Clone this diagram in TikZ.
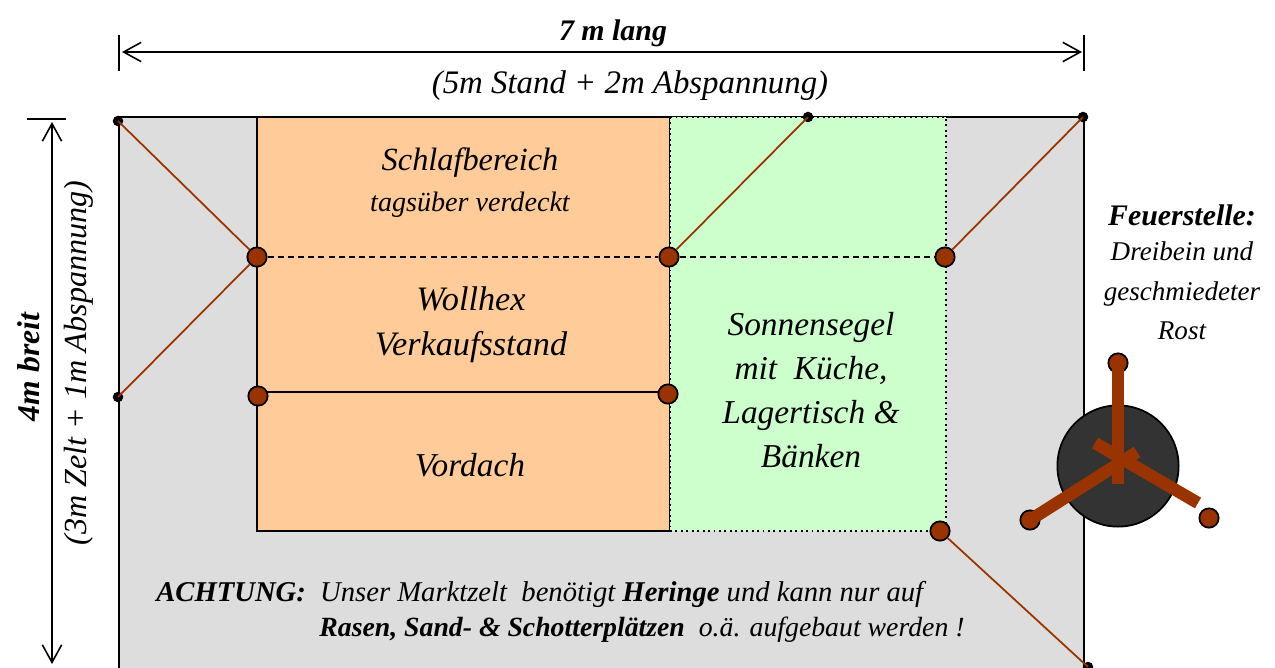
\documentclass[tikz,border=0pt]{standalone}
\usepackage{fontspec}
\setmainfont{Liberation Serif}
\usetikzlibrary{arrows.meta}
\definecolor{myrust}{HTML}{993300}
\definecolor{myorange}{HTML}{FFCC99}
\definecolor{mygreen}{HTML}{CCFFCC}
\definecolor{mygray}{HTML}{DDDDDD}
\definecolor{mycoal}{HTML}{333333}
\newcommand{\txtsize}[1]{\fontsize{#1}{#1}\selectfont}
\tikzset{
	>={Straight Barb[length=10pt,width=11pt,line width=0.9pt]},
	txt/.style={inner sep=0pt,align=center,font=\itshape\txtsize{19}},
	txtsmall/.style={inner sep=0pt,align=center,font=\itshape\txtsize{16}},
	bigdot/.style={circle,draw=black,fill=myrust,line width=1pt,minimum size=11pt,inner sep=0pt},
	smalldot/.style={circle,fill=black,minimum size=6pt,inner sep=0pt},
	guy/.style={myrust,line width=1pt},
	leg/.style={myrust,line width=7pt},
	tick/.style={line width=1.2pt},
	dim/.style={<->,line width=0.8pt},
	ridge/.style={line width=1pt,dash pattern=on 3.4pt off 2.4pt},
}
\begin{document}
\begin{tikzpicture}[x=0.02cm,y=-0.02cm]
	\useasboundingbox (0,0) rectangle (1275,667);
	\clip (0,0) rectangle (1275,667);
	\draw [fill=mygray,line width=1.1pt] (119,117) rectangle (1084,690);
	\draw [fill=myorange,line width=1.1pt] (257,117) rectangle (670,531);
	\draw [fill=mygreen,line width=1.1pt,dotted] (670,117) rectangle (946,531);
	\draw [line width=1.1pt] (257,117) -- (670,117);

	\coordinate (frontlineL) at (258,392);
	\coordinate (frontlineR) at (668,392);
	\draw [line width=1.1pt] (frontlineL) -- (frontlineR);

	\node [bigdot] (ridgeL) at (257,257) {};
	\node [bigdot] (ridgeM) at (669,257) {};
	\node [bigdot] (ridgeR) at (945,257) {};
	\node [bigdot] (frontL) at (258,396) {};
	\node [bigdot] (frontR) at (668,394) {};
	\node [bigdot] (sailB) at (940,531) {};
	\node [smalldot] (pegA) at (118,121) {};
	\node [smalldot] (pegB) at (118,397) {};
	\node [smalldot] (pegC) at (808,117) {};
	\node [smalldot] (pegD) at (1083,117) {};
	\node [smalldot] (pegE) at (1088,667) {};

	\draw [guy] (pegA.center) -- (ridgeL);
	\draw [guy] (pegB.center) -- (ridgeL);
	\draw [guy] (pegC.center) -- (ridgeM);
	\draw [guy] (pegD.center) -- (ridgeR);
	\draw [guy] (sailB) -- (pegE.center);
	\draw [ridge] (ridgeL) -- (ridgeM);
	\draw [ridge] (ridgeM) -- (ridgeR);

	\coordinate (tickTL) at (119,35);
	\coordinate (tickBL) at (119,71);
	\coordinate (tickTR) at (1084,35);
	\coordinate (tickBR) at (1084,71);
	\coordinate (tickLL) at (27,119);
	\coordinate (tickLR) at (66,119);
	\coordinate (lenL) at (122,52);
	\coordinate (lenR) at (1082,52);
	\coordinate (widT) at (52,122);
	\coordinate (widB) at (52,664);
	\draw [tick] (tickTL) -- (tickBL);
	\draw [tick] (tickTR) -- (tickBR);
	\draw [tick] (tickLL) -- (tickLR);
	\draw [dim] (lenL) -- (lenR);
	\draw [dim] (widT) -- (widB);

	\node [circle,draw=black,fill=mycoal,line width=1pt,minimum size=69pt,inner sep=0pt] (fire) at (1118,466) {};
	\node [bigdot] (feetA) at (1118,363) {};
	\node [bigdot] (feetB) at (1030,520) {};
	\node [bigdot] (feetC) at (1209,518) {};
	\coordinate (endA) at (1118,484);
	\coordinate (endB) at (1137,452);
	\coordinate (startC) at (1198,503);
	\coordinate (endC) at (1095,443);
	\draw [leg] (feetA.center) -- (endA);
	\draw [leg] (feetB.center) -- (endB);
	\draw [leg] (startC) -- (endC);

	\node [txt,font=\itshape\bfseries\txtsize{17}] (lenlabel) at (613,33) {7 m lang};
	\node [txt,font=\itshape\txtsize{18.7}] (lensub) at (630,86) {(5m Stand + 2m Abspannung)};
	\node [txt,font=\itshape\bfseries\txtsize{18},rotate=90] (widlabel) at (29,367) {4m breit};
	\node [txt,font=\itshape\txtsize{18.3},rotate=90] (widsub) at (79,363) {(3m Zelt + 1m Abspannung)};

	\node [txt,font=\itshape\txtsize{18.4}] (sleep) at (470,163) {Schlafbereich};
	\node [txtsmall] (sleepsub) at (470,205) {tagsüber verdeckt};
	\node [txt,font=\itshape\txtsize{19.5}] (stand) at (471,325) {Wollhex\\[6pt]Verkaufsstand};
	\node [txt] (porch) at (470,465) {Vordach};
	\node [txt] (sail) at (811,390) {Sonnensegel\\[6pt]mit\ \ Küche,\\[6pt]Lagertisch \&\\[6pt]Bänken};
	\node [txtsmall,font=\itshape\bfseries\txtsize{17}] (firelabel) at (1182,215) {Feuerstelle:};
	\node [txtsmall,font=\itshape\txtsize{15.4}] (firesub) at (1182,291) {Dreibein und\\[7pt]geschmiedeter\\[7pt]Rost};
	\node [txtsmall,anchor=west,font=\itshape\txtsize{16.3}] (note1) at (156,594) {\textbf{ACHTUNG:}\ \ Unser Marktzelt\ \ benötigt \textbf{Heringe} und kann nur auf};
	\node [txtsmall,anchor=west,font=\itshape\txtsize{15.8}] (note2) at (319,630) {\textbf{Rasen, Sand- \& Schotterplätzen}\ \ o.ä. aufgebaut werden !};
\end{tikzpicture}
\end{document}
